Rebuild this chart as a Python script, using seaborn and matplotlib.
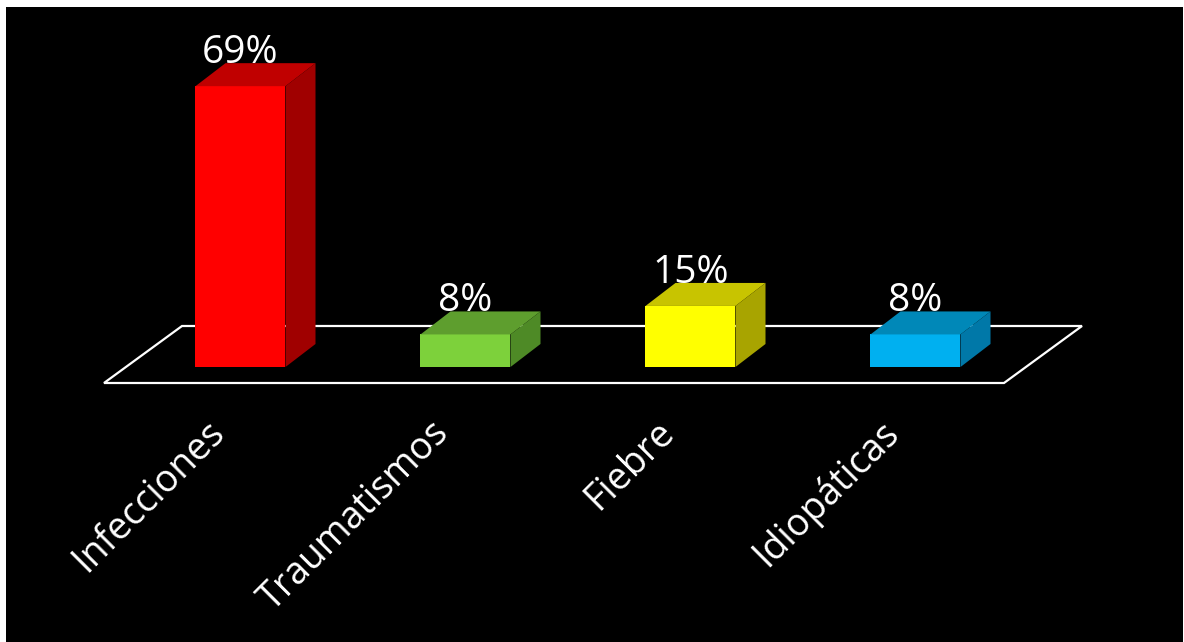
import matplotlib
matplotlib.use("Agg")
import matplotlib.pyplot as plt
from matplotlib.patches import Polygon
import seaborn as sns

categorias = ["Infecciones", "Traumatismos", "Fiebre", "Idiopáticas"]
porcentajes = [69, 8, 15, 8]
etiquetas = ["69%", "8%", "15%", "8%"]
color_frente = ["#FF0000", "#7DD13B", "#FFFF00", "#00B0F0"]
color_arriba = ["#C00000", "#5E9E2E", "#C8C400", "#0088B8"]
color_lado = ["#A00000", "#4E8A26", "#A8A400", "#0078A8"]

sns.set_style("white")
plt.rcParams["font.family"] = ["Open Sans", "DejaVu Sans"]

W, H = 1184, 642
fig = plt.figure(figsize=(W / 100, H / 100), dpi=100, facecolor="white")
# black area from x=6..1183, y=7..642
ax = fig.add_axes([6 / W, 0, (1183 - 6) / W, (H - 7) / H])
ax.set_facecolor("black")

sns.barplot(x=categorias, y=porcentajes, hue=categorias, palette=color_frente,
            width=0.4, legend=False, saturation=1, ax=ax, zorder=2, linewidth=0)
barras = list(ax.patches)

# pixel mapping: category i centre at 240.5 + 225*i, zero at y=367, 4.07 px per %
px_x = 225.0
px_y = 4.07
ax.set_xlim((6 - 240.5) / px_x, (1183 - 240.5) / px_x)
ax.set_ylim((367 - 642) / px_y, (367 - 7) / px_y)

# depth of the 3D effect
dx = 30 / px_x
dy = 23 / px_y

# floor (parallelogram)
f_front = -16 / px_y
f_back = 41 / px_y
floor = Polygon([((104 - 240.5) / px_x, f_front), ((1004 - 240.5) / px_x, f_front),
                 ((1082 - 240.5) / px_x, f_back), ((182 - 240.5) / px_x, f_back)],
                closed=True, fill=False, edgecolor="white", linewidth=1.6, zorder=0.5)
ax.add_patch(floor)

for i, p in enumerate(barras):
    x0, w, h = p.get_x(), p.get_width(), p.get_height()
    top = Polygon([(x0, h), (x0 + w, h), (x0 + w + dx, h + dy), (x0 + dx, h + dy)],
                  closed=True, facecolor=color_arriba[i], edgecolor="none", zorder=2)
    side = Polygon([(x0 + w, 0), (x0 + w + dx, dy), (x0 + w + dx, h + dy), (x0 + w, h)],
                   closed=True, facecolor=color_lado[i], edgecolor="none", zorder=2)
    ax.add_patch(top)
    ax.add_patch(side)
    ax.annotate(etiquetas[i], (x0 + w / 2, h + dy), xytext=(0, 0), textcoords="offset points",
                ha="center", va="baseline", color="white", fontsize=28, zorder=3)

for i, c in enumerate(categorias):
    ax.text(i - 15 / px_x, (367 - 434) / px_y, c, rotation=45, rotation_mode="anchor",
            ha="right", va="baseline", color="white", fontsize=27)

ax.set_xticks([])
ax.set_yticks([])
ax.set_xlabel("")
ax.set_ylabel("")
for s in ax.spines.values():
    s.set_visible(False)

fig.savefig("out.png", dpi=100, facecolor=fig.get_facecolor())
